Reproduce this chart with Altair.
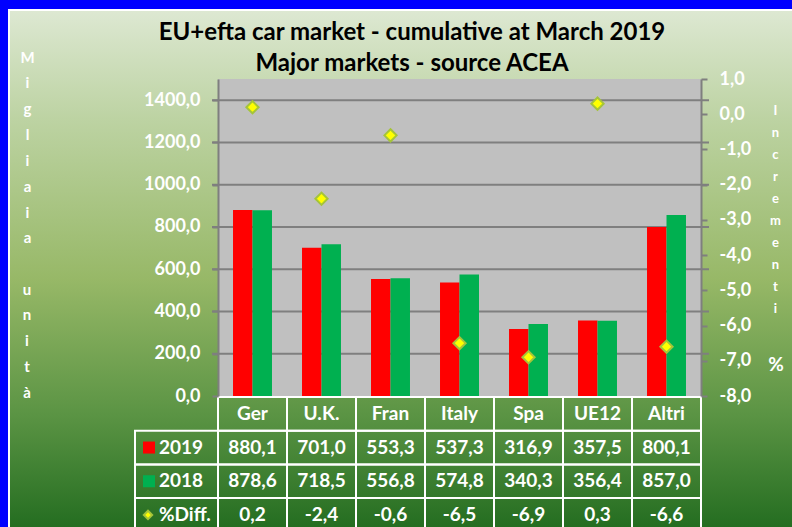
import altair as alt
import pandas as pd

# ---------------- data ----------------
cats = ["Ger", "U.K.", "Fran", "Italy", "Spa", "UE12", "Altri"]
v2019 = [880.1, 701.0, 553.3, 537.3, 316.9, 357.5, 800.1]
v2018 = [878.6, 718.5, 556.8, 574.8, 340.3, 356.4, 857.0]
pdiff = [0.2, -2.4, -0.6, -6.5, -6.9, 0.3, -6.6]
years = ["2019", "2018"]
left_ticks = [0, 200, 400, 600, 800, 1000, 1200, 1400]
right_ticks = [-8, -7, -6, -5, -4, -3, -2, -1, 0, 1]
row_keys = ["hdr", "2019", "2018", "diff"]
row_names = ["2019", "2018", "%Diff."]
title_lines = ["EU+efta car market - cumulative at March 2019", "Major markets - source ACEA"]
left_title_words = ["Migliaia", "unità"]
right_title = "Incrementi"

# ---------------- layout ----------------
W, H = 483, 317
FONT = "Lato"
WHITE = "#FFFFFF"
GRID = "#7F7F7F"
LH_LEFT = 25.85


def fmt(v):
    return f"{v:.1f}".replace(".", ",")


bars_df = pd.DataFrame({"cat": cats * 2,
                        "year": [years[0]] * len(cats) + [years[1]] * len(cats),
                        "val": v2019 + v2018})
pts_df = pd.DataFrame({"cat": cats, "diff": pdiff})
grid_df = pd.DataFrame({"v": left_ticks[1:]})
one = pd.DataFrame({"a": [0]})

tab_rows = []
for i, c in enumerate(cats):
    tab_rows.append({"cat": c, "row": "hdr", "txt": c})
    tab_rows.append({"cat": c, "row": "2019", "txt": fmt(v2019[i])})
    tab_rows.append({"cat": c, "row": "2018", "txt": fmt(v2018[i])})
    tab_rows.append({"cat": c, "row": "diff", "txt": fmt(pdiff[i])})
tab_df = pd.DataFrame(tab_rows)
lab_df = pd.DataFrame({"row": row_keys[1:], "lab": row_names})
sq_df = pd.DataFrame({"row": years, "year": years})
dia_df = pd.DataFrame({"row": ["diff"]})

x_enc = alt.X("cat:N", sort=cats,
              scale=alt.Scale(domain=cats, paddingInner=0, paddingOuter=0),
              axis=None)
row_y = alt.Y("row:N", sort=row_keys,
              scale=alt.Scale(domain=row_keys, range=[318, 452.8],
                              paddingInner=0, paddingOuter=0),
              axis=None)
color_enc = alt.Color("year:N",
                      scale=alt.Scale(domain=years, range=["#FF0000", "#00B050"]),
                      legend=None)

label_expr = "replace(replace(format(datum.value, '.1f'), '.', ','), '\u2212', '-')"

left_axis = alt.Axis(orient="left", values=left_ticks, labelExpr=label_expr,
                     labelFont=FONT, labelFontSize=18, labelFontWeight="bold",
                     labelColor=WHITE, labelPadding=12,
                     tickColor=GRID, tickWidth=2, tickSize=6,
                     domainColor=GRID, domainWidth=2, grid=False, zindex=1,
                     title=list(left_title_words[0]), titleAngle=0, titleX=-191,
                     titleY=-22, titleAlign="center", titleBaseline="middle",
                     titleLineHeight=LH_LEFT, titleFont=FONT, titleFontSize=15,
                     titleFontWeight="bold", titleColor=WHITE)
right_axis = alt.Axis(orient="right", values=right_ticks, labelExpr=label_expr,
                      labelFont=FONT, labelFontSize=18, labelFontWeight="bold",
                      labelColor=WHITE, labelPadding=12,
                      tickColor=GRID, tickWidth=2, tickSize=6,
                      domainColor=GRID, domainWidth=2, grid=False, zindex=1,
                      title=list(right_title), titleAngle=0, titleX=74, titleY=31,
                      titleAlign="center", titleBaseline="middle",
                      titleLineHeight=22.1, titleFont=FONT, titleFontSize=13,
                      titleFontWeight="bold", titleColor=WHITE)

gradient = alt.Gradient(
    gradient="linear",
    stops=[alt.GradientStop(color="#DDE8D2", offset=0),
           alt.GradientStop(color="#BDD3A3", offset=0.2),
           alt.GradientStop(color="#97B867", offset=0.5),
           alt.GradientStop(color="#5B9444", offset=0.75),
           alt.GradientStop(color="#1A661A", offset=1)],
    x1=0, x2=0, y1=0, y2=1)

bg = alt.Chart(one).mark_rect(fill=gradient, stroke=WHITE, strokeWidth=2).encode(
    x=alt.value(-209), x2=alt.value(600), y=alt.value(-69), y2=alt.value(470))

plot_bg = alt.Chart(one).mark_rect(color="#C0C0C0").encode(
    x=alt.value(0), x2=alt.value(W), y=alt.value(0), y2=alt.value(H))

grid = alt.Chart(grid_df).mark_rule(color=GRID, strokeWidth=2).encode(
    y=alt.Y("v:Q", scale=alt.Scale(domain=[0, 1500], nice=False), axis=None),
    x=alt.value(-6), x2=alt.value(W + 8))

bars = alt.Chart(bars_df).mark_bar().encode(
    x=x_enc,
    xOffset=alt.XOffset("year:N", sort=years,
                        scale=alt.Scale(paddingOuter=0.77, paddingInner=0)),
    y=alt.Y("val:Q", scale=alt.Scale(domain=[0, 1500], nice=False), axis=left_axis),
    color=color_enc)

pts = alt.Chart(pts_df).mark_point(shape="diamond", filled=True, fill="#FFFF00",
                                   stroke="#A5C43A", strokeWidth=2, size=150,
                                   opacity=1).encode(
    x=x_enc,
    y=alt.Y("diff:Q", scale=alt.Scale(domain=[-8, 1], nice=False), axis=right_axis))

cells = alt.Chart(tab_df).mark_rect(fillOpacity=0, stroke=WHITE, strokeWidth=2).encode(
    x=x_enc, y=row_y)
cell_txt = alt.Chart(tab_df).mark_text(font=FONT, fontSize=19, fontWeight="bold",
                                       color=WHITE).encode(
    x=x_enc, y=row_y, text="txt:N")
lab_cells = alt.Chart(lab_df).mark_rect(fillOpacity=0, stroke=WHITE, strokeWidth=2).encode(
    x=alt.value(-83), x2=alt.value(0), y=row_y)
lab_txt = alt.Chart(lab_df).mark_text(font=FONT, fontSize=19, fontWeight="bold",
                                      color=WHITE, align="left").encode(
    x=alt.value(-59), y=row_y, text="lab:N")
squares = alt.Chart(sq_df).mark_square(size=144, opacity=1).encode(
    x=alt.value(-69), y=row_y, color=color_enc)
diamond = alt.Chart(dia_df).mark_point(shape="diamond", filled=True, fill="#FFFF00",
                                       stroke="#A5C43A", strokeWidth=2, size=70,
                                       opacity=1).encode(
    x=alt.value(-70), y=row_y)
pct = alt.Chart(one).mark_text(text="%", font=FONT, fontSize=19, fontWeight="bold",
                               color=WHITE).encode(x=alt.value(558), y=alt.value(286))
# second word of the left axis title, continuing the stacked letters after a blank line
unita = alt.Chart(one).mark_text(text=list(left_title_words[1]), font=FONT, fontSize=15,
                                 fontWeight="bold", color=WHITE, lineHeight=LH_LEFT,
                                 baseline="middle").encode(
    x=alt.value(-191), y=alt.value(-22 + LH_LEFT * (len(left_title_words[0]) + 1)))
title = alt.Chart(one).mark_text(text=title_lines, font=FONT, fontSize=24,
                                 fontWeight="bold", color="black", lineHeight=31,
                                 baseline="middle").encode(
    x=alt.value(194), y=alt.value(-46))

chart = alt.layer(bg, plot_bg, grid, bars, pts, cells, cell_txt, lab_cells, lab_txt,
                  squares, diamond, pct, unita, title).resolve_scale(y="independent").properties(
    width=W, height=H,
    padding={"left": 218, "top": 79, "right": 91, "bottom": 131},
    autosize=alt.AutoSizeParams(type="none"),
    background="#0000FF",
).configure_view(stroke="transparent")

chart.save("out.html", embed_options={"renderer": "svg", "actions": False})
